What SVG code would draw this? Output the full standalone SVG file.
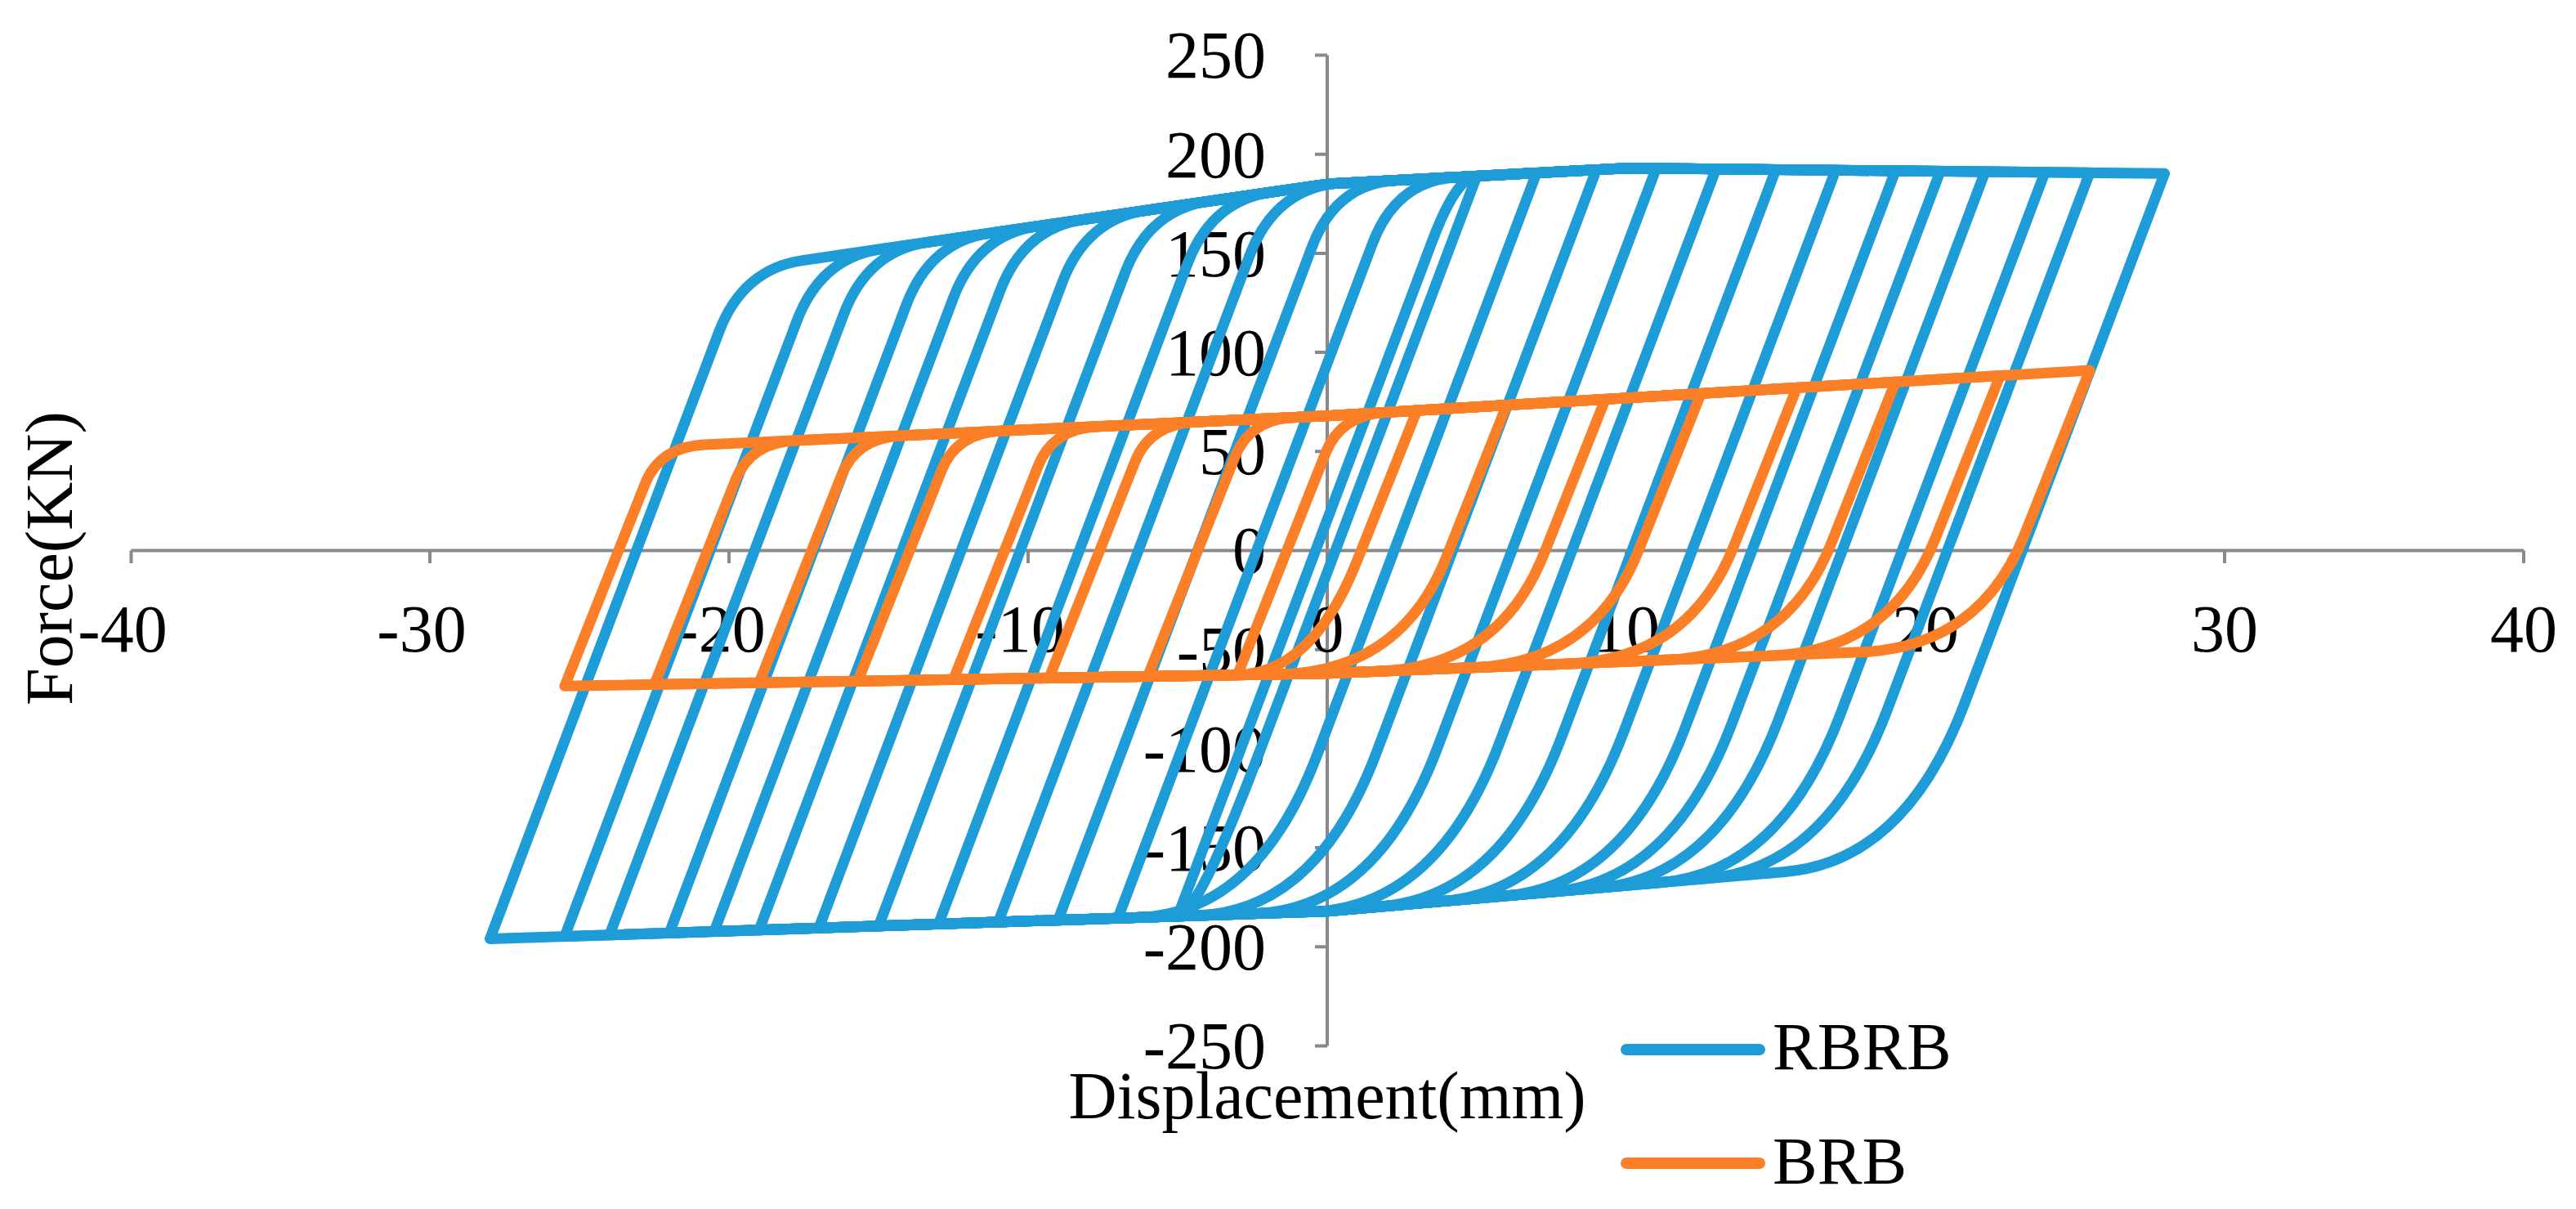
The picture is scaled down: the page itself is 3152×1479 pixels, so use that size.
<svg xmlns="http://www.w3.org/2000/svg" width="3152" height="1479" viewBox="0 0 3152 1479">
<style>
.ax{stroke:#898989;stroke-width:4;fill:none}
.t{font-family:"Liberation Serif","Times New Roman",serif;font-size:82px;fill:#000}
.yl{text-anchor:end}
.xl{text-anchor:middle}
.c{fill:none;stroke-width:13;stroke-linejoin:round;stroke-linecap:round;vector-effect:non-scaling-stroke}
.r{stroke:#1E9CD8}
.b{stroke:#FB7F26}
</style>
<rect width="3152" height="1479" fill="#fff"/>
<g id="axes">
<path class="ax" d="M1624 67.5V1279.5M1609 67.5H1624M1609 188.7H1624M1609 309.9H1624M1609 431.1H1624M1609 552.3H1624M1609 794.7H1624M1609 915.9H1624M1609 1037.1H1624M1609 1158.3H1624M1609 1279.5H1624"/>
<path class="ax" d="M160.5 673.5H3088M160.5 673.5V689M526 673.5V689M892 673.5V689M1258 673.5V689M1990 673.5V689M2356 673.5V689M2722 673.5V689M3088 673.5V689"/>
</g>
<g id="y-labels" class="t yl">
<text x="1549" y="95">250</text><text x="1549" y="217">200</text><text x="1549" y="338">150</text>
<text x="1549" y="459">100</text><text x="1549" y="580">50</text><text x="1549" y="701">0</text>
<text x="1549" y="823">-50</text><text x="1549" y="944">-100</text><text x="1549" y="1065">-150</text>
<text x="1549" y="1186">-200</text><text x="1549" y="1307">-250</text>
</g>
<g id="x-labels" class="t xl">
<text x="150" y="797">-40</text><text x="516" y="797">-30</text><text x="882" y="797">-20</text><text x="1248" y="797">-10</text>
<text x="1624" y="797">0</text><text x="1990" y="797">10</text><text x="2356" y="797">20</text><text x="2722" y="797">30</text><text x="3088" y="797">40</text>
</g>
<text class="t xl" x="1624" y="1368">Displacement(mm)</text>
<text class="t xl" transform="translate(88 683) rotate(-90)">Force(KN)</text>
<g id="curves" transform="matrix(36.59 0 0 -2.424 1624 673.5)">
<g id="RBRB">
<path class="c r" d="M-28 -196L-20.35 110Q-19.55 142 -17.55 146.4L0 185L10 193L28 190.3L21.32 -76.9Q19.32 -156.9 15.32 -162.1L0 -182Z"/>
<path class="c r" d="M-25.5 -194.75L-17.74 115.7Q-16.94 147.7 -14.94 152.1L0 185L10 193L25.5 190.7L18.73 -80.3Q16.73 -160.3 12.73 -165.45L0 -182Z"/>
<path class="c r" d="M-24 -194L-16.17 119.2Q-15.37 151.2 -13.37 155.6L0 185L10 193L24 190.9L17.17 -82.3Q15.17 -162.3 11.17 -167.5L0 -182Z"/>
<path class="c r" d="M-22 -193L-14.08 123.8Q-13.28 155.8 -11.28 160.2L0 185L10 193L22 191.2L15.1 -85Q13.1 -165 9.1 -170.2L0 -182Z"/>
<path class="c r" d="M-20.5 -192.25L-12.51 127.2Q-11.71 159.2 -9.71 163.6L0 185L10 193L20.5 191.4L13.54 -87Q11.54 -167 7.54 -172.2L0 -182Z"/>
<path class="c r" d="M-19 -191.5L-10.95 130.7Q-10.15 162.7 -8.15 167.1L0 185L10 193L19 191.65L11.98 -89Q9.98 -169 5.98 -174.2L0 -182Z"/>
<path class="c r" d="M-17 -190.5L-8.86 135.3Q-8.06 167.3 -6.06 171.7L0 185L10 193L17 191.95L9.91 -91.7Q7.91 -171.7 3.91 -176.9L0 -182Z"/>
<path class="c r" d="M-15 -189.5L-6.77 139.9Q-5.97 171.9 -3.97 176.3L0 185L10 193L15 192.25L7.83 -94.4Q5.83 -174.4 1.83 -179.6L0 -182Z"/>
<path class="c r" d="M-13 -188.5L-4.68 144.5Q-3.88 176.5 -1.88 180.9L0 185L10 193L13 192.55L5.76 -97.1Q3.76 -177.1 -0.24 -182.1Z"/>
<path class="c r" d="M-11 -187.5L-2.59 149.1Q-1.79 181.1 0.21 185.2L10 193L11 192.85L3.68 -99.8Q1.68 -179.8 -2.32 -183.2Z"/>
<path class="c r" d="M-9 -186.5L-0.51 153.2Q0.29 185.2 2.29 186.8L9 192.2L1.64 -102.2Q-0.36 -182.2 -4.36 -184.2Z"/>
<path class="c r" d="M-7 -185.5L1.51 154.8Q2.31 186.8 4.31 188.4L7 190.6L-0.34 -103.2Q-2.34 -183.2 -6.34 -185.2Z"/>
<path class="c r" d="M-5 -184.5L3.52 156.5Q4.32 188.5 5 189L-2.33 -104.2Q-4.33 -184.2 -5 -184.5Z"/>
</g>
<g id="BRB">
<path class="c b" d="M-25.5 -68.4L-22.82 33.4Q-22.32 52.4 -20.82 53.4L0 68L25.5 90.95L23.32 8.1Q21.82 -48.9 17.82 -51.3L0 -62Z"/>
<path class="c b" d="M-22.5 -67.6L-19.79 35.5Q-19.29 54.5 -17.79 55.5L0 68L22.5 88.25L20.34 6.3Q18.84 -50.7 14.84 -53.1L0 -62Z"/>
<path class="c b" d="M-19 -66.75L-16.24 38Q-15.74 57 -14.24 58L0 68L19 85.1L16.87 4.2Q15.37 -52.8 11.37 -55.2L0 -62Z"/>
<path class="c b" d="M-15.7 -65.9L-12.9 40.3Q-12.4 59.3 -10.9 60.4L0 68L15.7 82.1L13.6 2.3Q12.1 -54.7 8.1 -57.1L0 -62Z"/>
<path class="c b" d="M-12.5 -65.1L-9.67 42.6Q-9.17 61.6 -7.67 62.6L0 68L12.5 79.25L10.42 0.4Q8.92 -56.6 4.92 -59L0 -62Z"/>
<path class="c b" d="M-9.3 -64.3L-6.43 44.8Q-5.93 63.8 -4.43 64.9L0 68L9.3 76.4L7.25 -1.55Q5.75 -58.55 1.75 -60.95L0 -62Z"/>
<path class="c b" d="M-6 -63.5L-3.09 47.2Q-2.59 66.2 -1.09 67.2L0 68L6 73.4L3.98 -3.5Q2.48 -60.5 -1.52 -62.4Z"/>
<path class="c b" d="M-3 -62.75L-0.05 49.4Q0.45 68.4 1.95 69.75L3 70.7L1 -5.1Q-0.5 -62.1 -3 -62.75Z"/>
</g>
</g>
<g id="legend">
<line x1="1990" y1="1284" x2="2153" y2="1284" stroke="#1E9CD8" stroke-width="14" stroke-linecap="round"/>
<text class="t" x="2169" y="1308">RBRB</text>
<line x1="1990" y1="1423" x2="2153" y2="1423" stroke="#FB7F26" stroke-width="14" stroke-linecap="round"/>
<text class="t" x="2169" y="1448">BRB</text>
</g>
</svg>
